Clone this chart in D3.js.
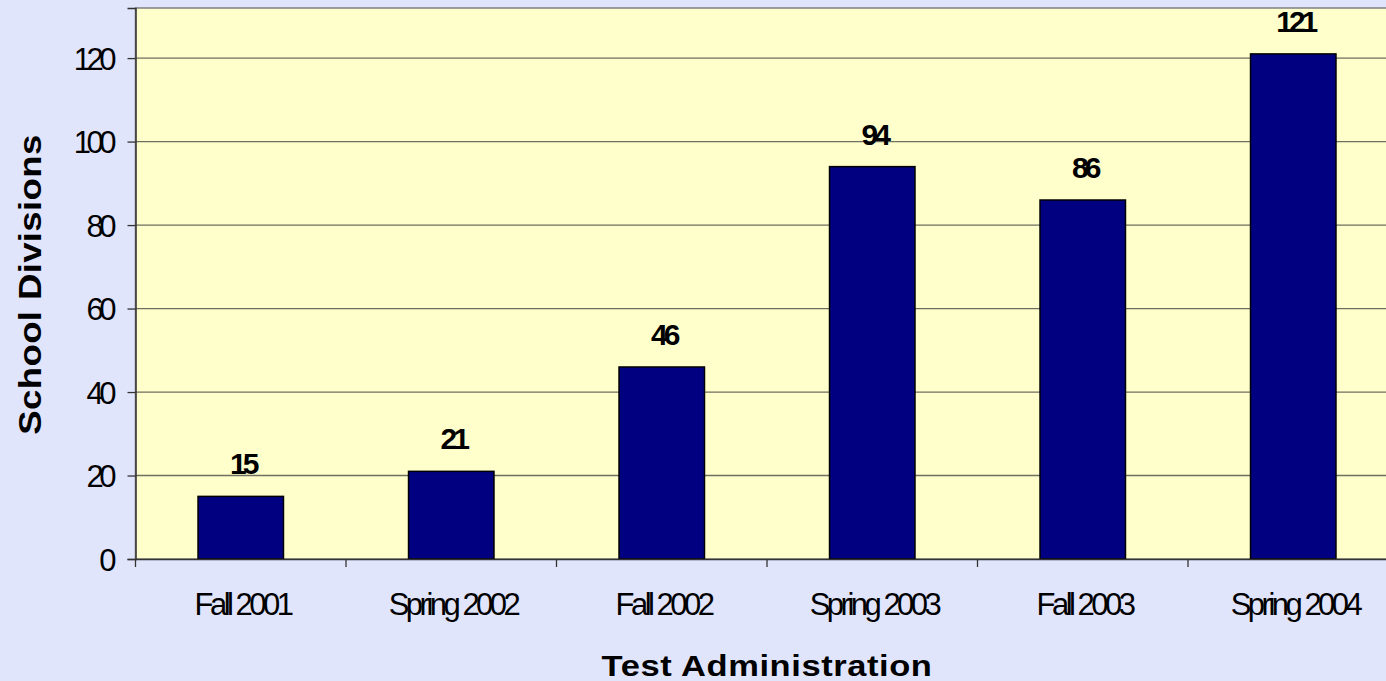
<!DOCTYPE html>
<html><head><meta charset="utf-8">
<script src="https://cdn.jsdelivr.net/npm/d3@7"></script>
<style>
html,body{margin:0;padding:0;background:#E1E5FC;overflow:hidden}
svg{display:block}
</style></head><body>
<svg id="c" width="1386" height="681"></svg>
<script>
const categories = ["Fall 2001","Spring 2002","Fall 2002","Spring 2003","Fall 2003","Spring 2004"];
const values = [15,21,46,94,86,121];
const yTicks = [0,20,40,60,80,100,120];
const xTitle = "Test Administration";
const yTitle = "School Divisions";

const W = 1386, H = 681;
const m = {left:135.5, top:8, right:-12.5, bottom:122};
const FONT = "Liberation Sans, Arial, sans-serif";
const svg = d3.select("#c");
svg.append("rect").attr("width",W).attr("height",H).attr("fill","#E1E5FC");

const x = d3.scaleBand().domain(categories).range([m.left, W - m.right]).paddingInner(0).paddingOuter(0);
const y = d3.scaleLinear().domain([0,132]).range([H - m.bottom, m.top]);

// plot area
svg.append("rect").attr("x",m.left).attr("y",m.top)
  .attr("width",(W-m.right)-m.left).attr("height",(H-m.bottom)-m.top)
  .attr("fill","#FFFFCC").attr("stroke","#808080").attr("stroke-width",1.5);

// gridlines
svg.append("g").selectAll("line").data(yTicks.filter(d=>d>0)).join("line")
  .attr("x1",m.left).attr("x2",W-m.right)
  .attr("y1",d=>y(d)).attr("y2",d=>y(d))
  .attr("stroke","#6f6f60").attr("stroke-width",1.3);

// bars
const bw = x.bandwidth()*0.406;
svg.append("g").selectAll("rect").data(values).join("rect")
  .attr("x",(d,i)=>x(categories[i])+x.bandwidth()/2-bw/2)
  .attr("y",d=>y(d))
  .attr("width",bw)
  .attr("height",d=>y(0)-y(d))
  .attr("fill","#000080").attr("stroke","#000").attr("stroke-width",1.5);

// value labels
svg.append("g").selectAll("text").data(values).join("text")
  .attr("x",(d,i)=>x(categories[i])+x.bandwidth()/2+2)
  .attr("y",d=>y(d)-22)
  .attr("text-anchor","middle")
  .attr("font-family",FONT)
  .attr("font-weight","bold").attr("font-size",30)
  .attr("letter-spacing","-4px")
  .attr("fill","#000")
  .text(d=>d);

// y axis
const yAxis = d3.axisLeft(y).tickValues(yTicks).tickSize(8).tickPadding(15.5);
const gy = svg.append("g").attr("transform",`translate(${m.left},0)`).call(yAxis);
gy.select(".domain").attr("stroke","#333").attr("stroke-width",1.5);
gy.selectAll(".tick line").attr("stroke","#333").attr("stroke-width",1.3);
gy.selectAll(".tick text").attr("font-family",FONT)
  .attr("font-size",31).attr("letter-spacing","-4.5px").attr("fill","#000").attr("dy","0.36em");

// x axis
const xAxis = d3.axisBottom(x).tickSize(0);
const gx = svg.append("g").attr("transform",`translate(0,${H-m.bottom})`).call(xAxis);
gx.select(".domain").attr("stroke","#333").attr("stroke-width",1.5);
gx.selectAll(".tick text").attr("font-family",FONT)
  .attr("font-size",31).attr("letter-spacing","-3.5px").attr("fill","#000")
  .attr("y",56).attr("dy","0").attr("dx","1.75");
// boundary ticks between categories
const bounds = categories.map(c=>x(c));
svg.append("g").selectAll("line").data(bounds).join("line")
  .attr("x1",d=>d).attr("x2",d=>d)
  .attr("y1",H-m.bottom).attr("y2",H-m.bottom+8)
  .attr("stroke","#333").attr("stroke-width",1.3);

// axis titles (glyphs in the original are horizontally stretched)
svg.append("text")
  .attr("transform",`translate(${(m.left+W-m.right)/2},676) scale(1.15,1)`)
  .attr("text-anchor","middle")
  .attr("font-family",FONT)
  .attr("font-weight","bold").attr("font-size",30).attr("letter-spacing","0.5px").attr("fill","#000")
  .text(xTitle);
svg.append("text")
  .attr("transform",`translate(41,${(m.top+H-m.bottom)/2 + 1}) rotate(-90) scale(1.18,1)`)
  .attr("text-anchor","middle")
  .attr("font-family",FONT)
  .attr("font-weight","bold").attr("font-size",31).attr("letter-spacing","0.3px").attr("fill","#000")
  .text(yTitle);
</script>
</body></html>
